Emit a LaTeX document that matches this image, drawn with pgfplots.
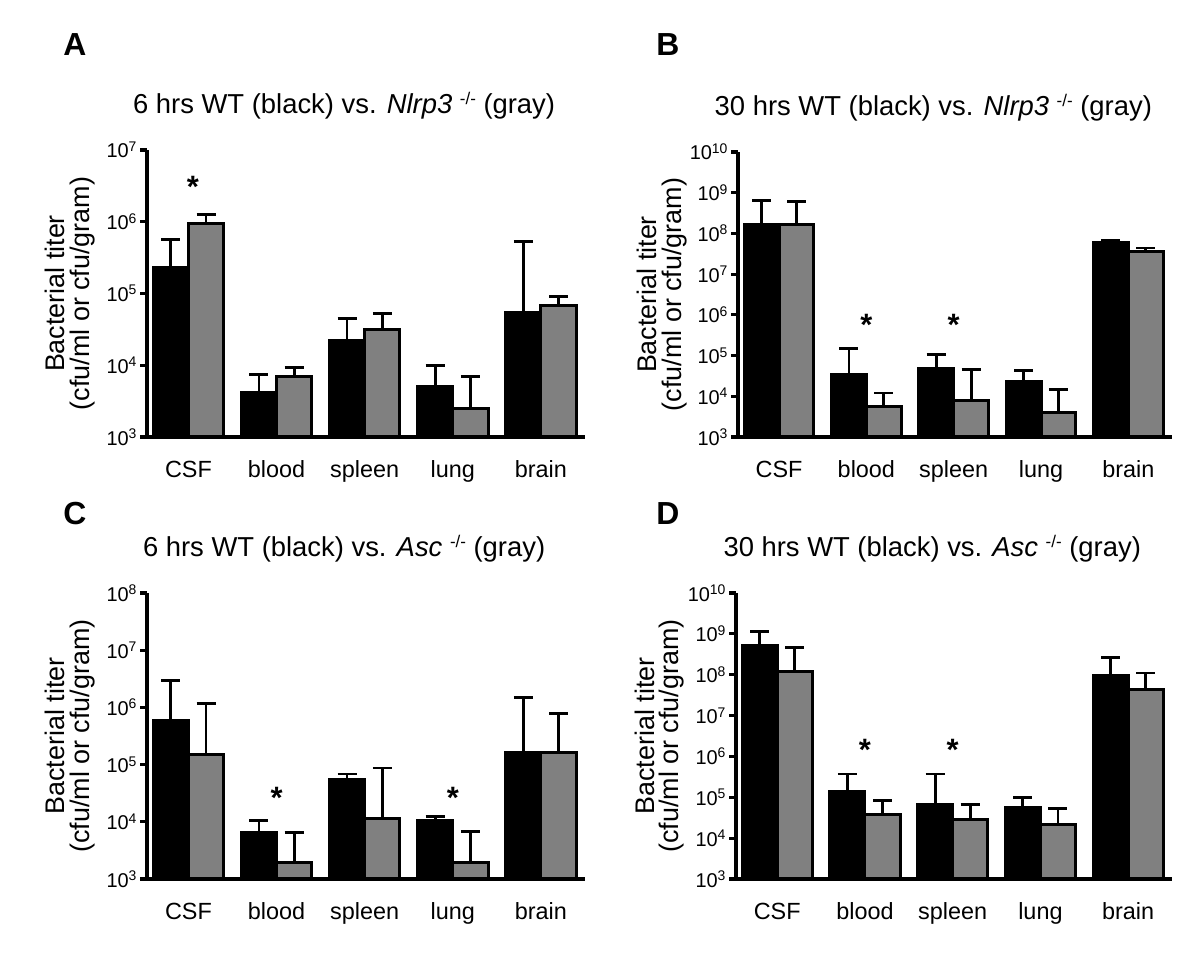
\documentclass[border=0pt]{standalone}
\usepackage{pgfplots}
\pgfplotsset{compat=1.18}
\usepackage{fontspec}
\setmainfont{Liberation Sans}

\definecolor{bargray}{RGB}{128,128,128}
% superscripts at a fixed size (\textsuperscript would fall back to 7pt)
\newcommand\tsup[1]{\raisebox{6.5pt}{\fontsize{14}{14}\selectfont#1}}
\newcommand\hsup[1]{\raisebox{9pt}{\fontsize{17}{17}\selectfont#1}}

% shared look of the four panels (1bp = 1px of the reference)
\pgfplotsset{
  titerpanel/.style={
    scale only axis, anchor=south west,
    xmin=-0.47, xmax=4.5,
    axis x line*=bottom, axis y line*=left,
    axis line style={line width=3.8bp, -},
    xtick={0,1,2,3,4}, xticklabels={CSF,blood,spleen,lung,brain},
    x tick style={draw=none},
    y tick style={line width=3.2bp, black},
    tick align=outside, major tick length=7bp,
    yminorticks=false,
    xticklabel style={font=\fontsize{23.5}{25}\selectfont, anchor=base, yshift=-34bp},
    yticklabel style={font=\fontsize{20}{22}\selectfont},
    ylabel={Bacterial titer\\(cfu/ml or cfu/gram)},
    ylabel style={font=\fontsize{27}{25}\selectfont, align=center,
      at={(axis description cs:-0.11,0.5)}, anchor=south},
    title style={font=\fontsize{27.5}{30}\selectfont, at={(0.45,1)}, anchor=base, yshift=31bp},
    ybar, bar width=0.4,
  },
  wtbar/.style={fill=black, draw=black, line width=3bp, bar shift=-0.2,
    error bars/.cd, y dir=plus, y explicit,
    error bar style={line width=2.8bp, black},
    error mark options={rotate=90, mark size=9.5bp, line width=2.8bp, black}},
  kobar/.style={fill=bargray, draw=black, line width=3bp, bar shift=0.2,
    error bars/.cd, y dir=plus, y explicit,
    error bar style={line width=2.8bp, black},
    error mark options={rotate=90, mark size=9.5bp, line width=2.8bp, black}},
}
\tikzset{sigstar/.style={font=\fontsize{31}{31}\selectfont\bfseries, yshift=-7bp},
  letter/.style={font=\fontsize{32}{32}\selectfont\bfseries}}

\begin{document}
\begin{tikzpicture}
\path[use as bounding box] (0,0) rectangle (1200bp,956bp);

\node[letter] at (75bp,911bp) {A};
\node[letter] at (668bp,911bp) {B};
\node[letter] at (75bp,442bp) {C};
\node[letter] at (668bp,442bp) {D};

% A: 6 hrs, Nlrp3
\begin{axis}[titerpanel, ymode=log, log origin=infty,
    at={(147bp,519bp)}, width=438bp, height=287bp,
    ymin=1e3, ymax=1e7, ytick={1e3,1e4,1e5,1e6,1e7},
    yticklabels={10\tsup{3},10\tsup{4},10\tsup{5},10\tsup{6},10\tsup{7}},
    title={6 hrs WT (black) vs. \textit{Nlrp3} \hsup{-/-} (gray)}]
\addplot[wtbar] coordinates {(0,2.3e5) += (0,3.4e5) (1,4.2e3) += (0,3.3e3) (2,2.2e4) += (0,2.3e4) (3,5.0e3) += (0,4.9e3) (4,5.5e4) += (0,4.75e5)};
\addplot[kobar] coordinates {(0,9.4e5) += (0,3.1e5) (1,6.9e3) += (0,2.5e3) (2,3.1e4) += (0,2.2e4) (3,2.5e3) += (0,4.4e3) (4,6.8e4) += (0,2.3e4)};
\node[sigstar] at (axis cs:0.05,3.8e6) {*};
\end{axis}

% B: 30 hrs, Nlrp3
\begin{axis}[titerpanel, ymode=log, log origin=infty,
    at={(738bp,519bp)}, width=434bp, height=285bp,
    ymin=1e3, ymax=1e10, ytick={1e3,1e4,1e5,1e6,1e7,1e8,1e9,1e10},
    yticklabels={10\tsup{3},10\tsup{4},10\tsup{5},10\tsup{6},10\tsup{7},10\tsup{8},10\tsup{9},10\tsup{10}},
    title={30 hrs WT (black) vs. \textit{Nlrp3} \hsup{-/-} (gray)}]
\addplot[wtbar] coordinates {(0,1.7e8) += (0,4.8e8) (1,3.35e4) += (0,1.145e5) (2,4.8e4) += (0,5.7e4) (3,2.26e4) += (0,2.04e4) (4,6.1e7) += (0,0.8e7)};
\addplot[kobar] coordinates {(0,1.7e8) += (0,4.3e8) (1,5.7e3) += (0,6.3e3) (2,8.0e3) += (0,3.7e4) (3,3.9e3) += (0,1.08e4) (4,3.7e7) += (0,0.7e7)};
\node[sigstar] at (axis cs:1,8.3e5) {*};
\node[sigstar] at (axis cs:2,8.3e5) {*};
\end{axis}

% C: 6 hrs, Asc
\begin{axis}[titerpanel, ymode=log, log origin=infty,
    at={(147bp,77bp)}, width=438bp, height=286bp,
    ymin=1e3, ymax=1e8, ytick={1e3,1e4,1e5,1e6,1e7,1e8},
    yticklabels={10\tsup{3},10\tsup{4},10\tsup{5},10\tsup{6},10\tsup{7},10\tsup{8}},
    title={6 hrs WT (black) vs. \textit{Asc} \hsup{-/-} (gray)}]
\addplot[wtbar] coordinates {(0,5.9e5) += (0,2.41e6) (1,6.5e3) += (0,4.0e3) (2,5.4e4) += (0,1.45e4) (3,1.07e4) += (0,1.8e3) (4,1.66e5) += (0,1.334e6)};
\addplot[kobar] coordinates {(0,1.49e5) += (0,1.031e6) (1,1.96e3) += (0,4.44e3) (2,1.13e4) += (0,7.57e4) (3,1.96e3) += (0,4.84e3) (4,1.65e5) += (0,6.25e5)};
\node[sigstar] at (axis cs:1,3.47e4) {*};
\node[sigstar] at (axis cs:3,3.47e4) {*};
\end{axis}

% D: 30 hrs, Asc
\begin{axis}[titerpanel, ymode=log, log origin=infty,
    at={(736bp,77bp)}, width=436bp, height=286bp,
    ymin=1e3, ymax=1e10, ytick={1e3,1e4,1e5,1e6,1e7,1e8,1e9,1e10},
    yticklabels={10\tsup{3},10\tsup{4},10\tsup{5},10\tsup{6},10\tsup{7},10\tsup{8},10\tsup{9},10\tsup{10}},
    title={30 hrs WT (black) vs. \textit{Asc} \hsup{-/-} (gray)}]
\addplot[wtbar] coordinates {(0,5.1e8) += (0,6.2e8) (1,1.37e5) += (0,2.33e5) (2,6.6e4) += (0,3.04e5) (3,5.6e4) += (0,4.5e4) (4,9.3e7) += (0,1.72e8)};
\addplot[kobar] coordinates {(0,1.21e8) += (0,3.49e8) (1,3.75e4) += (0,4.65e4) (2,2.94e4) += (0,3.76e4) (3,2.14e4) += (0,3.16e4) (4,4.46e7) += (0,6.54e7)};
\node[sigstar] at (axis cs:1,2.14e6) {*};
\node[sigstar] at (axis cs:2,2.14e6) {*};
\end{axis}
\end{tikzpicture}
\end{document}
